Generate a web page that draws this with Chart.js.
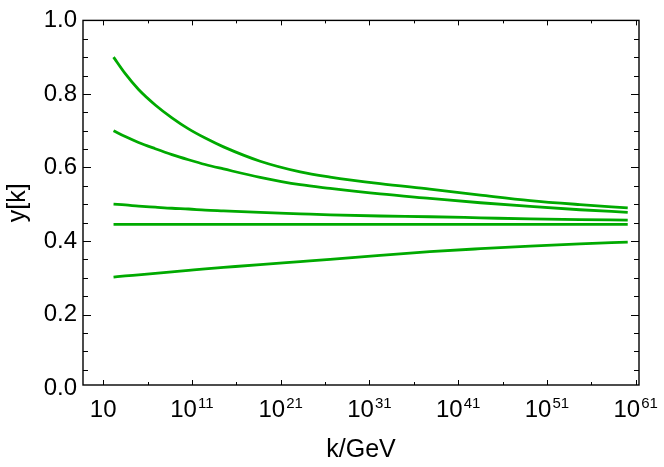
<!DOCTYPE html>
<html>
<head>
<meta charset="utf-8">
<script src="https://cdn.jsdelivr.net/npm/chart.js@4.4.1/dist/chart.umd.min.js"></script>
<style>
  html, body { margin: 0; padding: 0; background: #fff; }
</style>
</head>
<body>
<canvas id="chart" width="664" height="467"></canvas>
<script>
// x values are log10(k/GeV)
const logK = [2.17, 3.49, 4.99, 6.87, 8.75, 10.62, 12.5, 14.56, 18.69, 23.2, 26.57, 32.2, 37.8, 43.5, 49.1, 54.7, 60.1];

const yFrom09 = [0.900, 0.855, 0.812, 0.770, 0.735, 0.705, 0.680, 0.656, 0.617, 0.588, 0.574, 0.556, 0.541, 0.525, 0.510, 0.499, 0.490];
const yFrom07 = [0.700, 0.684, 0.668, 0.651, 0.635, 0.621, 0.608, 0.596, 0.573, 0.553, 0.543, 0.528, 0.516, 0.504, 0.494, 0.485, 0.478];
const yFrom05 = [0.500, 0.498, 0.495, 0.492, 0.489, 0.487, 0.484, 0.482, 0.478, 0.474, 0.471, 0.468, 0.466, 0.463, 0.460, 0.458, 0.457];
const yFixed  = [0.445, 0.445, 0.445, 0.445, 0.445, 0.445, 0.445, 0.445, 0.445, 0.445, 0.445, 0.445, 0.445, 0.445, 0.445, 0.445, 0.445];
const yFrom03 = [0.302, 0.305, 0.308, 0.312, 0.316, 0.320, 0.324, 0.328, 0.336, 0.344, 0.350, 0.361, 0.371, 0.379, 0.386, 0.392, 0.397];

// ticks
const xMajorTicks = [1, 11, 21, 31, 41, 51, 61];
const xMinorTicks = [6, 16, 26, 36, 46, 56];
const yMajorTicks = [0, 0.2, 0.4, 0.6, 0.8, 1.0];
const yMinorTicks = [0.05, 0.1, 0.15, 0.25, 0.3, 0.35, 0.45, 0.5, 0.55, 0.65, 0.7, 0.75, 0.85, 0.9, 0.95];

const FONT = "'Liberation Sans', Arial, sans-serif";
const GREEN = "#00aa00";

Chart.defaults.font.family = FONT;
Chart.defaults.color = "#000";

function series(values) {
  return {
    data: logK.map((x, i) => ({ x, y: values[i] })),
    borderColor: GREEN,
    borderWidth: 2.8,
    pointRadius: 0,
    fill: false,
    cubicInterpolationMode: "monotone"
  };
}

// frame, inward ticks and 10^n labels
const framePlugin = {
  id: "frame",
  afterDraw(chart) {
    const { ctx, chartArea: a, scales } = chart;
    const xs = scales.x, ys = scales.y;
    ctx.save();
    ctx.strokeStyle = "#000";
    ctx.lineWidth = 1.4;
    ctx.strokeRect(a.left, a.top, a.right - a.left, a.bottom - a.top);

    ctx.lineWidth = 1;
    ctx.beginPath();
    const xTick = (v, len) => {
      const px = Math.round(xs.getPixelForValue(v)) + 0.5;
      ctx.moveTo(px, a.bottom); ctx.lineTo(px, a.bottom - len);
      ctx.moveTo(px, a.top); ctx.lineTo(px, a.top + len);
    };
    const yTick = (v, len) => {
      const py = Math.round(ys.getPixelForValue(v)) + 0.5;
      if (py > a.bottom) return;
      ctx.moveTo(a.left, py); ctx.lineTo(a.left + len, py);
      ctx.moveTo(a.right, py); ctx.lineTo(a.right - len, py);
    };
    xMajorTicks.forEach(v => xTick(v, 5));
    xMinorTicks.forEach(v => xTick(v, 3));
    yMajorTicks.forEach(v => yTick(v, 8));
    yMinorTicks.forEach(v => yTick(v, 5));
    ctx.stroke();

    // x tick labels as 10 with a raised exponent
    ctx.fillStyle = "#000";
    ctx.textBaseline = "alphabetic";
    ctx.textAlign = "left";
    xMajorTicks.forEach(v => {
      const px = xs.getPixelForValue(v);
      ctx.font = "24px " + FONT;
      const base = "10";
      const wb = ctx.measureText(base).width;
      const exp = v === 1 ? "" : String(v);
      ctx.font = "15px " + FONT;
      const we = exp ? ctx.measureText(exp).width + 1 : 0;
      const start = px - (wb + we) / 2;
      ctx.font = "24px " + FONT;
      ctx.fillText(base, start, a.bottom + 32);
      if (exp) {
        ctx.font = "15px " + FONT;
        ctx.fillText(exp, start + wb + 1, a.bottom + 23);
      }
    });
    ctx.restore();
  }
};

new Chart(document.getElementById("chart"), {
  type: "line",
  data: {
    datasets: [
      series(yFrom09),
      series(yFrom07),
      series(yFrom05),
      series(yFixed),
      series(yFrom03)
    ]
  },
  options: {
    responsive: false,
    animation: false,
    devicePixelRatio: 1,
    layout: { padding: { top: 14, right: 25, left: 0, bottom: 0 } },
    plugins: { legend: { display: false }, tooltip: { enabled: false } },
    scales: {
      x: {
        type: "linear",
        min: -1.27,
        max: 61.37,
        afterBuildTicks: s => { s.ticks = xMajorTicks.map(value => ({ value })); },
        afterFit: s => { s.height = 82; },
        ticks: { display: false },
        grid: { display: false, drawTicks: false },
        border: { display: false },
        title: {
          display: true,
          text: "k/GeV",
          font: { size: 25 },
          padding: { top: 0, bottom: 2 }
        }
      },
      y: {
        type: "linear",
        min: 0.0083,
        max: 1.0,
        afterBuildTicks: s => { s.ticks = yMajorTicks.map(value => ({ value })); },
        afterFit: s => { s.width = 83; },
        ticks: {
          autoSkip: false,
          padding: 6,
          font: { size: 24 },
          callback: v => v.toFixed(1)
        },
        grid: { display: false, drawTicks: false },
        border: { display: false },
        title: {
          display: true,
          text: "y[k]",
          font: { size: 25 },
          padding: { top: 3, bottom: 0 }
        }
      }
    }
  },
  plugins: [framePlugin]
});
</script>
</body>
</html>
